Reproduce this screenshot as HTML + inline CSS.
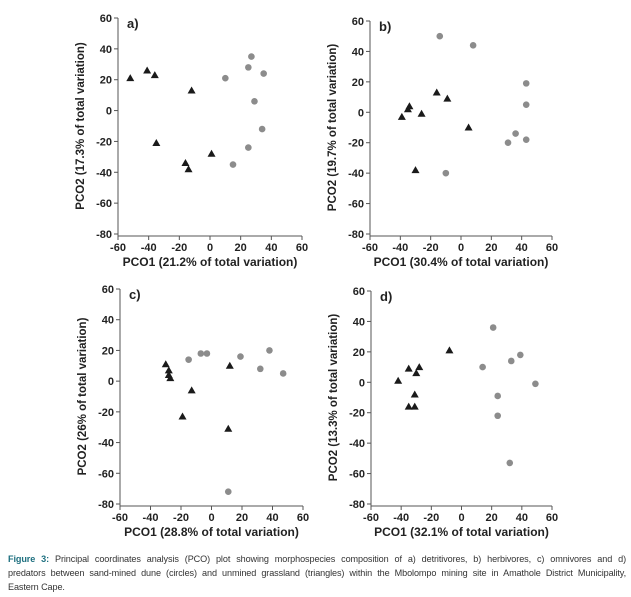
<!DOCTYPE html>
<html><head><meta charset="utf-8"><style>
body{margin:0;background:#fff;width:631px;height:597px;overflow:hidden;font-family:"Liberation Sans",sans-serif}
#cap{position:absolute;left:8px;top:552px;width:618px;font-size:9.1px;line-height:14px;color:#333;letter-spacing:-0.1px}
#cap div{white-space:nowrap;overflow:hidden}
#cap .j{text-align:justify;text-align-last:justify;white-space:normal;height:14px}
#cap b{color:#1d6f7f}
</style></head><body>
<svg id="chart" width="631" height="597" style="position:absolute;left:0;top:0"></svg>
<div id="cap"><div class="j"><b>Figure 3:</b> Principal coordinates analysis (PCO) plot showing morphospecies composition of a) detritivores, b) herbivores, c) omnivores and d)</div><div class="j">predators between sand-mined dune (circles) and unmined grassland (triangles) within the Mbolompo mining site in Amathole District Municipality,</div><div>Eastern Cape.</div></div>
<script>
const xTicks=[-60,-40,-20,0,20,40,60];
const yTicks=[60,40,20,0,-20,-40,-60,-80];
const panelLabels=["a)","b)","c)","d)"];
const xTitles=["PCO1 (21.2% of total variation)","PCO1 (30.4% of total variation)","PCO1 (28.8% of total variation)","PCO1 (32.1% of total variation)"];
const yTitles=["PCO2 (17.3% of total variation)","PCO2 (19.7% of total variation)","PCO2 (26% of total variation)","PCO2 (13.3% of total variation)"];
const triA=[[-52,21],[-41,26],[-36,23],[-12,13],[-35,-21],[-16,-34],[-14,-38],[1,-28]];
const cirA=[[27,35],[25,28],[10,21],[35,24],[29,6],[34,-12],[25,-24],[15,-35]];
const triB=[[-39,-3],[-35,2],[-34,4],[-26,-1],[-16,13],[-9,9],[5,-10],[-30,-38]];
const cirB=[[-14,50],[8,44],[43,19],[43,5],[36,-14],[43,-18],[31,-20],[-10,-40]];
const triC=[[-30,11],[-28,7],[-28,4],[-27,2],[-13,-6],[-19,-23],[12,10],[11,-31]];
const cirC=[[-15,14],[-7,18],[-3,18],[19,16],[32,8],[38,20],[47,5],[11,-72]];
const triD=[[-42,1],[-35,9],[-28,10],[-30,6],[-31,-8],[-35,-16],[-31,-16],[-8,21]];
const cirD=[[21,36],[14,10],[33,14],[39,18],[49,-1],[24,-9],[24,-22],[32,-53]];
const tris=[triA,triB,triC,triD], cirs=[cirA,cirB,cirC,cirD];
const geom=[{x0:118,x1:302,y0:18,y1:234},{x0:370,x1:552,y0:21,y1:234},{x0:120,x1:303,y0:289,y1:504},{x0:371,x1:552,y0:291,y1:504}];
const svg=document.getElementById('chart');const NS='http://www.w3.org/2000/svg';
function mk(t,a,p){const e=document.createElementNS(NS,t);for(const k in a)e.setAttribute(k,a[k]);(p||svg).appendChild(e);return e;}
const names=["a","b","c","d"];
geom.forEach((g,i)=>{
 const G=mk('g',{});
 
 
 const sx=v=>g.x0+(v+60)/120*(g.x1-g.x0);
 const sy=v=>g.y0+(60-v)/140*(g.y1-g.y0);
 const col='#555';
 let l=mk('line',{x1:g.x0,y1:g.y0,x2:g.x0,y2:g.y1+2,stroke:col,'stroke-width':1},G);
 
 l=mk('line',{x1:g.x0,y1:g.y1+2,x2:g.x1,y2:g.y1+2,stroke:col,'stroke-width':1},G);
 
 yTicks.forEach(v=>{mk('line',{x1:g.x0-4,x2:g.x0,y1:sy(v),y2:sy(v),stroke:col},G);
  const t=mk('text',{x:g.x0-6,y:sy(v)+4,'text-anchor':'end','font-size':11,'font-weight':'bold',fill:'#222'},G);t.textContent=v;
  });
 xTicks.forEach(v=>{mk('line',{x1:sx(v),x2:sx(v),y1:g.y1+2,y2:g.y1+6,stroke:col},G);
  const t=mk('text',{x:sx(v),y:g.y1+17,'text-anchor':'middle','font-size':11,'font-weight':'bold',fill:'#222'},G);t.textContent=v;
  });
 let t=mk('text',{x:(g.x0+g.x1)/2,y:g.y1+32,'text-anchor':'middle','font-size':12,'font-weight':'bold',fill:'#222'},G);t.textContent=xTitles[i];
 
 const yx=g.x0-34,yc=(g.y0+g.y1)/2;
 t=mk('text',{x:yx,y:yc,'text-anchor':'middle','font-size':11.5,'font-weight':'bold',fill:'#222',transform:`rotate(-90 ${yx} ${yc})`},G);t.textContent=yTitles[i];
 
 t=mk('text',{x:g.x0+9,y:g.y0+10,'font-size':13,'font-weight':'bold',fill:'#222'},G);t.textContent=panelLabels[i];
 
 cirs[i].forEach(p=>{const c=mk('circle',{cx:sx(p[0]),cy:sy(p[1]),r:3.3,fill:'#8c8c8c'},G);
  });
 tris[i].forEach(p=>{const x=sx(p[0]),y=sy(p[1]);const c=mk('polygon',{points:`${x},${y-4} ${x-4},${y+3} ${x+4},${y+3}`,fill:'#1a1a1a'},G);
  });
});
</script>
</body></html>
